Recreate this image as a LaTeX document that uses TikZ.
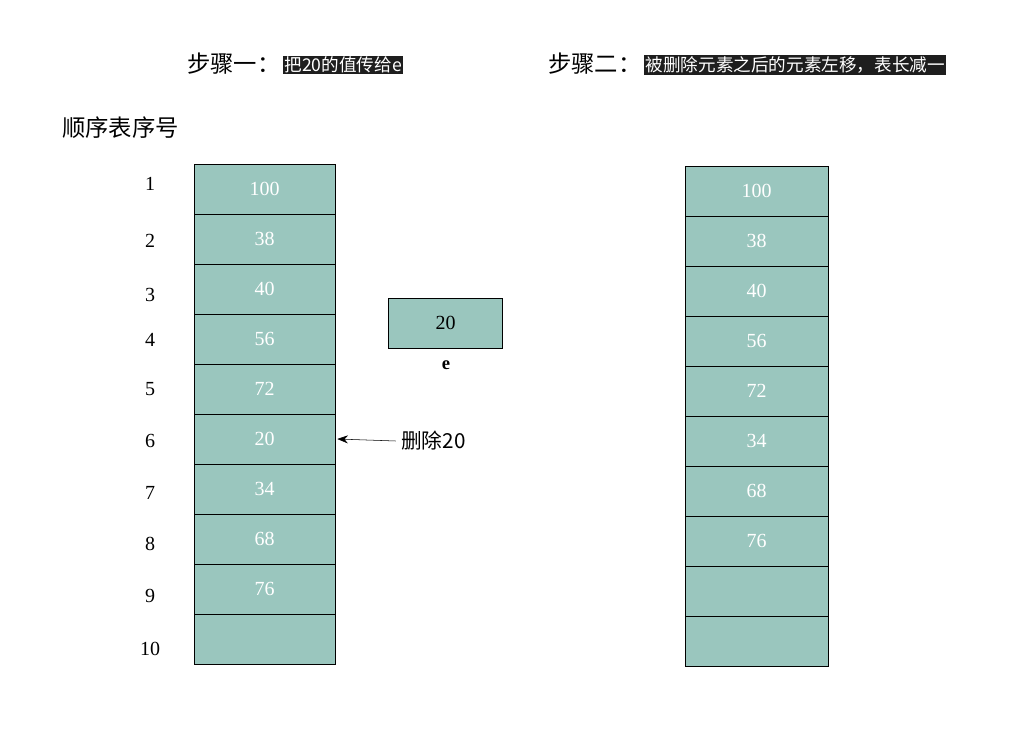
\documentclass[tikz,border=0pt]{standalone}
\usepackage{fontspec}
\usetikzlibrary{arrows.meta}
\setmainfont{Liberation Serif}
\newfontfamily\cjk{Noto Sans CJK SC}
\definecolor{cellc}{HTML}{9AC6BE}
\definecolor{darkbg}{HTML}{1E1E1E}
\begin{document}
\begin{tikzpicture}[x=0.75pt,y=-0.75pt,
  cell/.style={draw=black,fill=cellc,minimum width=105pt,minimum height=37.5pt,inner sep=0pt,text=white,font=\fontsize{15}{15}\selectfont},
  idx/.style={font=\fontsize{15}{15}\selectfont},
  hl/.style={fill=darkbg,text=white,inner sep=1pt,font=\cjk\fontsize{13.2}{13.2}\selectfont},
  ttl/.style={font=\cjk\fontsize{17.5}{17.5}\selectfont,inner sep=0pt}]
\useasboundingbox (0,0) rectangle (1031,748);
\foreach \v [count=\i] in {100,38,40,56,72,20,34,68,76,{}} {
  \node[cell,minimum width=105.75pt] (L\i) at (264.5,{164+50*(\i-1)+25}) {\v};
}
\foreach \v [count=\i] in {100,38,40,56,72,34,68,76,{},{}} {
  \node[cell,minimum width=107.25pt] (R\i) at (756.5,{166+50*(\i-1)+25}) {\v};
}
\foreach \n/\y [count=\i] in {1/184,2/241,3/295,4/340,5/389,6/441,7/493,8/544,9/596,10/649} {
  \node[idx] (n\i) at (150,\y) {\n};
}
\node[cell,minimum width=85.5pt,text=black] (e) at (445.5,323) {20};
\node[font=\bfseries\fontsize{14}{14}\selectfont] (elab) at (446,365) {e};
\node[font=\cjk\fontsize{15.5}{15.5}\selectfont,anchor=west,inner sep=0pt] (del) at (401,441) {删除20};
\draw[-{Stealth[length=8pt,width=6pt]}] ([xshift=-4pt]del.west) -- ([xshift=1.5pt]L6.east);
\node[ttl,anchor=west] (h) at (62,128) {顺序表序号};
\node[ttl,anchor=west] (t1) at (187,64) {步骤一：};
\node[hl,anchor=west] (t1b) at (283,65) {把20的值传给e};
\node[ttl,anchor=west] (t2) at (548,64) {步骤二：};
\node[hl,anchor=west] (t2b) at (644,65) {被删除元素之后的元素左移，表长减一};
\end{tikzpicture}
\end{document}
